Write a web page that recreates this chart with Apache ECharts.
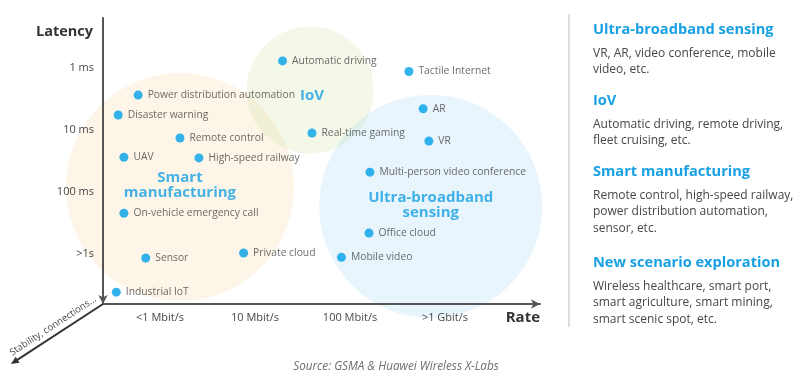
<!DOCTYPE html>
<html>
<head>
<meta charset="utf-8">
<script src="https://cdn.jsdelivr.net/npm/echarts@6/dist/echarts.min.js"></script>
<style>html,body{margin:0;padding:0;background:#fff;}#c{width:800px;height:392px;}</style>
</head>
<body>
<div id="c"></div>
<script>
// ---- data ----
const xTickValues = [1, 2, 3, 4];
const xTickLabels = ['<1 Mbit/s', '10 Mbit/s', '100 Mbit/s', '>1 Gbit/s'];
const yTickValues = [0, 1, 2, 3];
const yTickLabels = ['1 ms', '10 ms', '100 ms', '>1s'];

const pointNames = ['Power distribution automation', 'Disaster warning', 'Remote control', 'UAV',
  'High-speed railway', 'On-vehicle emergency call', 'Sensor', 'Private cloud', 'Industrial IoT',
  'Automatic driving', 'Tactile Internet', 'AR', 'Real-time gaming', 'VR',
  'Multi-person video conference', 'Office cloud', 'Mobile video'];
const pointRate = [0.77, 0.56, 1.21, 0.62, 1.41, 0.62, 0.85, 1.88, 0.54,
  2.29, 3.62, 3.77, 2.60, 3.83, 3.21, 3.20, 2.91];
const pointLatency = [0.44, 0.76, 1.13, 1.44, 1.45, 2.34, 3.06, 2.98, 3.61,
  -0.11, 0.06, 0.66, 1.05, 1.18, 1.68, 2.66, 3.05];

const bubbleNames = ['Smart\nmanufacturing', 'IoV', 'Ultra-broadband\nsensing'];
const bubbleRate = [1.21, 2.58, 3.85];
const bubbleLatency = [1.92, 0.36, 2.23];

const panelHeadings = ['Ultra-broadband sensing', 'IoV', 'Smart manufacturing', 'New scenario exploration'];
const panelBodies = [
  ['VR, AR, video conference, mobile', 'video, etc.'],
  ['Automatic driving, remote driving,', 'fleet cruising, etc.'],
  ['Remote control, high-speed railway,', 'power distribution automation,', 'sensor, etc.'],
  ['Wireless healthcare, smart port,', 'smart agriculture, smart mining,', 'smart scenic spot, etc.']
];
const sourceText = 'Source: GSMA & Huawei Wireless X-Labs';
const depthAxisLabel = 'Stability, connections...';

// ---- layout / style ----
const FONT = '"Open Sans", sans-serif';
const GRID = { left: 103, top: 18, width: 437, height: 286 };
const AXIS_COLOR = '#555555';
const DOT = '#00a0e9';
const BLUE_TEXT = '#17a0e4';
const TEXT = '#474747';
const bubbleStyles = [
  { size: 228, color: 'rgba(247,214,160,0.3)', offset: [0, -2] },
  { size: 127, color: 'rgba(200,225,150,0.28)', offset: [2, 6] },
  { size: 223, color: 'rgba(140,205,240,0.25)', offset: [0, -1] }
];

const chart = echarts.init(document.getElementById('c'), null, { renderer: 'canvas' });

const bubbleSeries = bubbleNames.map((n, i) => ({
  type: 'scatter', name: n, z: 1, clip: false, silent: true,
  symbolSize: bubbleStyles[i].size,
  itemStyle: { color: bubbleStyles[i].color },
  label: {
    show: true, position: 'inside', formatter: '{b}', offset: bubbleStyles[i].offset,
    color: BLUE_TEXT, fontSize: 15, fontWeight: 'bold', fontFamily: FONT, lineHeight: 15
  },
  data: [{ name: n, value: [bubbleRate[i], bubbleLatency[i]] }]
}));

const pointSeries = {
  type: 'scatter', z: 5, clip: false, symbolSize: 9,
  itemStyle: { color: DOT },
  label: {
    show: true, position: 'right', distance: 5, formatter: '{b}',
    color: TEXT, fontSize: 10.3, fontFamily: FONT
  },
  data: pointNames.map((n, i) => ({ name: n, value: [pointRate[i], pointLatency[i]] }))
};

// diagonal (depth) axis from origin
const ox = GRID.left, oy = GRID.top + GRID.height;
const ang = Math.atan2(60, 92);
const len = 110;
const tx = ox - Math.cos(ang) * len, ty = oy + Math.sin(ang) * len;
const ux = -Math.cos(ang), uy = Math.sin(ang);
const px = -uy, py = ux;
const ah = 8, aw = 3.5;
const arrowPts = [[tx, ty],
  [tx - ux * ah + px * aw, ty - uy * ah + py * aw],
  [tx - ux * ah - px * aw, ty - uy * ah - py * aw]];

const graphics = [
  { type: 'line', shape: { x1: ox, y1: oy, x2: tx - ux * 4, y2: ty - uy * 4 }, style: { stroke: '#333', lineWidth: 2 }, z: 10 },
  { type: 'polygon', shape: { points: arrowPts }, style: { fill: '#333' }, z: 10 },
  { type: 'text', x: 53, y: 326, rotation: ang, originX: 0, originY: 0,
    style: { text: depthAxisLabel, fill: TEXT, font: '9.5px ' + FONT, textAlign: 'center', textVerticalAlign: 'middle' }, z: 10 },
  { type: 'line', shape: { x1: 569, y1: 14, x2: 569, y2: 327 }, style: { stroke: '#dedede', lineWidth: 2 } },
  { type: 'text', x: 396, y: 367, style: { text: sourceText, fill: '#6e6e6e', font: 'italic 11.7px ' + FONT, textAlign: 'center', textVerticalAlign: 'middle' } }
];

const headingY = [30, 101, 172, 263];
panelHeadings.forEach((h, i) => {
  graphics.push({ type: 'text', x: 593, y: headingY[i],
    style: { text: h, fill: BLUE_TEXT, font: 'bold 14.6px ' + FONT, textVerticalAlign: 'middle' } });
  graphics.push({ type: 'text', x: 593, y: headingY[i] + 24 - 8.5,
    style: { text: panelBodies[i].join('\n'), fill: TEXT, font: '12px ' + FONT, lineHeight: 16.3, textVerticalAlign: 'top' } });
});

chart.setOption({
  animation: false,
  grid: GRID,
  xAxis: {
    type: 'value', min: 0.4, max: 5, z: 3,
    axisLine: { onZero: false, lineStyle: { color: AXIS_COLOR, width: 2 }, symbol: ['none', 'arrow'], symbolSize: [7, 9] },
    axisTick: { show: false }, splitLine: { show: false },
    axisLabel: { customValues: xTickValues, formatter: v => xTickLabels[xTickValues.indexOf(v)], color: TEXT, fontSize: 11, fontFamily: FONT, margin: 8 },
    name: 'Rate', nameLocation: 'end', nameGap: 0,
    nameTextStyle: { align: 'right', verticalAlign: 'top', padding: [6, 0, 0, 0], color: '#333', fontSize: 15, fontWeight: 'bold', fontFamily: FONT }
  },
  yAxis: {
    type: 'value', min: -0.8, max: 3.8, inverse: true, z: 3,
    axisLine: { onZero: false, lineStyle: { color: AXIS_COLOR, width: 2 }, symbol: ['arrow', 'none'], symbolSize: [7, 9] },
    axisTick: { show: false }, splitLine: { show: false },
    axisLabel: { customValues: yTickValues, formatter: v => yTickLabels[yTickValues.indexOf(v)], color: TEXT, fontSize: 11, fontFamily: FONT, margin: 9 },
    name: 'Latency', nameLocation: 'start', nameGap: -14,
    nameTextStyle: { align: 'right', verticalAlign: 'middle', padding: [0, 10, 0, 0], color: '#333', fontSize: 14.5, fontWeight: 'bold', fontFamily: FONT }
  },
  series: [...bubbleSeries, pointSeries],
  graphic: graphics
});
</script>
</body>
</html>
